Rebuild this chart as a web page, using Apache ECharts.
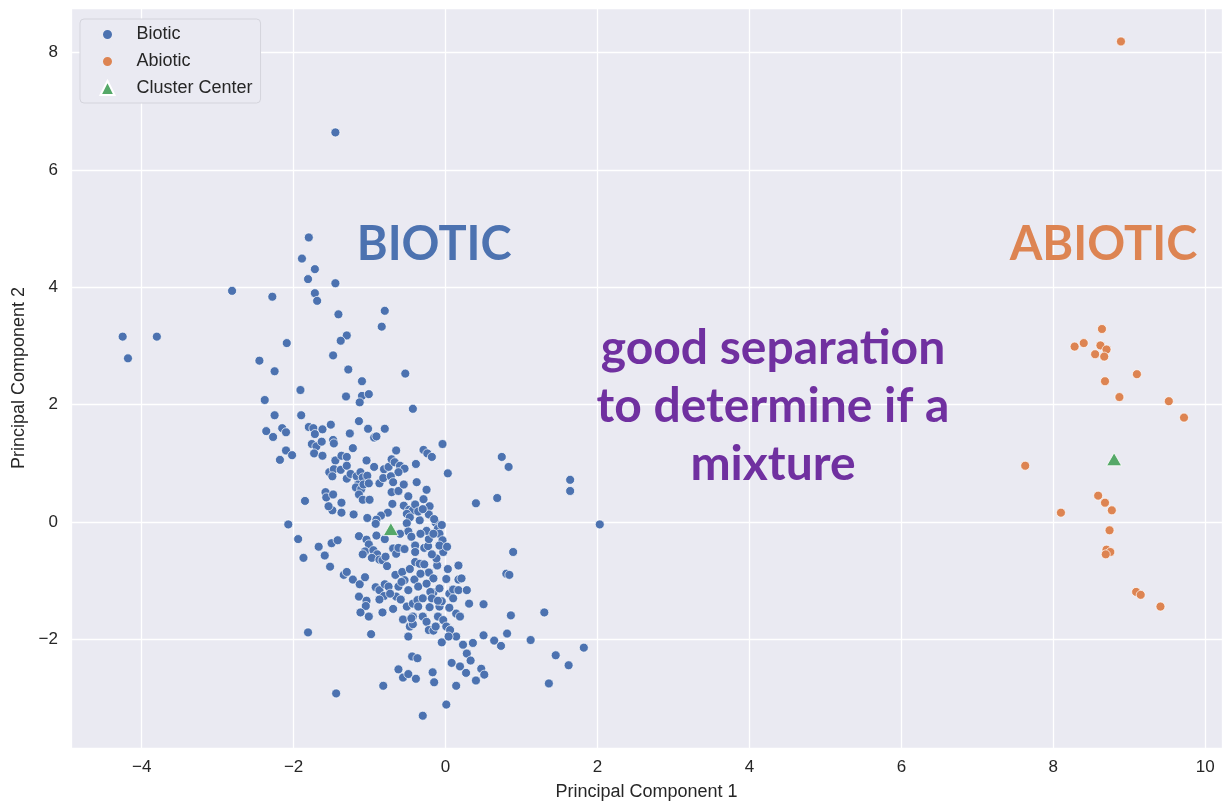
<!DOCTYPE html>
<html>
<head>
<meta charset="utf-8">
<title>PCA clusters</title>
<script src="https://cdn.jsdelivr.net/npm/echarts@6.0.0/dist/echarts.min.js"></script>
<style>
  html, body { margin: 0; padding: 0; background: #fff; }
  #main { width: 1224px; height: 806px; }
</style>
</head>
<body>
<div id="main"></div>
<script>
// points as [PC1, PC2]
const biotic = [
  [-1.45, 6.64], [-1.80, 4.85], [-1.89, 4.49], [-1.72, 4.31], [-1.81, 4.14], [-1.45, 4.07], [-1.72, 3.90], [-1.69, 3.77],
  [-2.81, 3.94], [-2.28, 3.84], [-1.41, 3.54], [-0.80, 3.60], [-0.84, 3.33], [-4.25, 3.16], [-3.80, 3.16], [-4.18, 2.79],
  [-2.09, 3.05], [-1.30, 3.18], [-1.38, 3.09], [-1.48, 2.84], [-2.45, 2.75], [-2.25, 2.57], [-1.28, 2.60], [-1.10, 2.40],
  [-0.53, 2.53], [-1.91, 2.25], [-1.31, 2.14], [-1.10, 2.15], [-1.01, 2.18], [-1.13, 2.04], [-2.38, 2.08], [-0.43, 1.93],
  [-2.25, 1.82], [-1.90, 1.82],
  [-2.36, 1.55], [-2.27, 1.45], [-2.15, 1.60], [-2.10, 1.53], [-2.18, 1.06], [-2.10, 1.22], [-2.02, 1.14],
  [-1.80, 1.62], [-1.74, 1.60], [-1.72, 1.50], [-1.62, 1.58], [-1.51, 1.66],
  [-1.76, 1.33], [-1.70, 1.29], [-1.73, 1.17], [-1.63, 1.37], [-1.62, 1.13],
  [-1.48, 1.40], [-1.47, 1.34], [-1.26, 1.51], [-1.14, 1.72], [-1.02, 1.59], [-0.94, 1.44], [-0.91, 1.46], [-0.80, 1.59],
  [-1.22, 1.26], [-1.45, 1.05], [-1.37, 1.13], [-1.30, 1.11],
  [-1.53, 0.85], [-1.47, 0.90], [-1.49, 0.78], [-1.38, 0.89], [-1.30, 0.96], [-1.30, 0.74],
  [-1.25, 0.82], [-1.17, 0.78], [-1.12, 0.85], [-1.15, 0.64], [-1.09, 0.76], [-1.03, 0.79], [-1.18, 0.59], [-1.11, 0.56],
  [-1.08, 0.64], [-1.01, 0.66], [-1.14, 0.47], [-1.09, 0.38], [-1.00, 0.38],
  [-1.04, 1.05], [-0.94, 0.94], [-0.81, 0.90], [-0.75, 0.94],
  [-0.71, 1.07], [-0.65, 1.22], [-0.67, 1.02], [-0.60, 0.96], [-0.54, 0.91], [-0.62, 0.85],
  [-0.39, 0.99], [-0.29, 1.23], [-0.24, 1.17], [-0.18, 1.11], [-0.04, 1.33], [0.03, 0.83], [0.40, 0.32],
  [-0.87, 0.66], [-0.82, 0.75], [-0.72, 0.78], [-0.69, 0.68], [-0.71, 0.51], [-0.62, 0.53], [-0.55, 0.64], [-0.38, 0.68],
  [-0.49, 0.44], [-0.25, 0.55], [-0.29, 0.39], [-0.21, 0.27], [-0.22, 0.13], [-0.34, 0.03],
  [-0.55, 0.28], [-0.48, 0.21], [-0.43, 0.20], [-0.51, 0.14], [-0.47, 0.08], [-0.51, -0.02],
  [-0.70, 0.31], [-0.76, 0.16], [-0.85, 0.11], [-0.91, 0.04], [-0.92, -0.03], [-1.03, 0.07], [-1.21, 0.13], [-1.37, 0.16],
  [-1.49, 0.20], [-1.54, 0.27], [-1.58, 0.51], [-1.57, 0.42], [-1.48, 0.47], [-1.37, 0.33], [-1.85, 0.36],
  [-2.07, -0.04], [-1.94, -0.29], [-1.87, -0.61], [-1.67, -0.42], [-1.59, -0.57], [-1.50, -0.36], [-1.42, -0.31],
  [-1.52, -0.76], [-1.34, -0.90], [-1.30, -0.85], [-1.22, -0.98], [-1.13, -1.06], [-1.06, -0.94],
  [-1.14, -0.24], [-1.04, -0.30], [-1.01, -0.38], [-1.06, -0.50], [-1.09, -0.55], [-0.91, -0.23], [-0.80, -0.29],
  [-0.95, -0.48], [-0.90, -0.55], [-0.97, -0.61], [-0.87, -0.64], [-0.83, -0.65], [-0.79, -0.59], [-0.77, -0.75],
  [-0.69, -0.45], [-0.65, -0.54], [-0.62, -0.44], [-0.54, -0.46], [-0.40, -0.40], [-0.40, -0.51], [-0.49, -0.16],
  [-0.28, -0.44], [-0.23, -0.41], [-0.22, -0.29], [-0.25, -0.15], [-0.13, -0.01], [-0.10, -0.11], [-0.08, -0.20],
  [-0.04, -0.31], [-0.03, -0.51],
  [-0.40, -0.68], [-0.34, -0.71], [-0.28, -0.72], [-0.11, -0.74], [0.17, -0.74],
  [-0.92, -1.11], [-0.87, -1.16], [-0.80, -1.06], [-0.81, -1.26], [-0.87, -1.32], [-1.14, -1.27], [-1.04, -1.34],
  [-1.05, -1.43], [-1.12, -1.54], [-1.01, -1.61], [-0.83, -1.54],
  [-0.66, -0.90], [-0.57, -0.85], [-0.54, -0.99], [-0.41, -0.98], [-0.36, -1.10], [-0.49, -1.16], [-0.62, -1.10],
  [-0.65, -1.27], [-0.69, -1.48], [-0.59, -1.32], [-0.51, -1.44], [-0.43, -1.39], [-0.37, -1.33],
  [-0.56, -1.66], [-0.43, -1.61], [-0.30, -1.61], [-0.21, -1.45], [-0.16, -1.20], [-0.08, -1.13], [-0.20, -1.19],
  [-0.22, -0.86], [-0.16, -0.96], [0.01, -0.97], [0.05, -1.22],
  [0.10, -1.15], [0.17, -1.16], [0.28, -1.16], [0.17, -0.98], [0.21, -0.96],
  [-0.08, -1.44], [-0.10, -1.61], [-0.03, -1.67], [0.05, -1.46], [0.14, -1.56], [0.19, -1.61], [0.31, -1.39],
  [-0.47, -1.78], [-0.43, -1.74], [-0.25, -1.70], [-0.22, -1.84], [-0.16, -1.85], [-0.13, -1.78],
  [0.01, -1.78], [0.06, -1.84], [0.14, -1.95], [0.23, -2.09], [0.28, -2.24], [0.36, -2.06], [-0.05, -2.05], [0.04, -1.95],
  [-0.49, -1.95], [-1.81, -1.88], [-0.98, -1.91], [-0.44, -2.29], [-0.37, -2.32], [-0.62, -2.51], [-0.56, -2.65],
  [-0.49, -2.59], [-0.39, -2.67], [-0.17, -2.56], [-0.15, -2.73],
  [0.08, -2.40], [0.19, -2.46], [0.27, -2.57], [0.33, -2.36], [0.40, -2.70], [0.14, -2.79], [-0.82, -2.79], [-1.44, -2.92],
  [0.01, -3.11], [-0.30, -3.30],
  [0.74, 1.11], [0.83, 0.94], [1.64, 0.72], [1.64, 0.53], [0.68, 0.41], [2.03, -0.04], [0.89, -0.51], [0.80, -0.88],
  [0.84, -0.90], [0.50, -1.40], [0.86, -1.59], [1.30, -1.54], [0.50, -1.93], [0.64, -2.02], [0.73, -2.11], [0.81, -1.90],
  [1.12, -2.01], [1.82, -2.14], [1.45, -2.27], [1.62, -2.44], [1.36, -2.75], [0.47, -2.50], [0.51, -2.60],
  [-0.75, -1.10], [-0.73, -1.22], [-0.58, -1.02], [-0.36, -1.44], [-0.45, -1.64], [-0.30, -1.30], [-0.25, -1.05],
  [-0.33, -0.88], [-0.47, -0.80], [-0.18, -1.30], [-0.05, -1.35], [0.10, -1.30], [-0.12, -0.62], [0.03, -0.80],
  [-0.40, 0.30], [-0.36, 0.18], [-0.30, 0.22], [-0.15, 0.05], [-0.05, -0.05], [-0.08, -0.40], [0.02, -0.42],
  [-0.18, -0.55], [-0.33, -0.20], [-0.45, -0.25], [-0.60, -0.20], [-0.16, -0.20], [-0.10, -1.34]
];

const abiotic = [
  [8.89, 8.19], [8.64, 3.29], [8.28, 2.99], [8.40, 3.05], [8.62, 3.01], [8.70, 2.94], [8.55, 2.86], [8.67, 2.82],
  [8.68, 2.40], [9.10, 2.52], [8.87, 2.13], [9.52, 2.06], [9.72, 1.78], [7.63, 0.96], [8.59, 0.45], [8.68, 0.33],
  [8.77, 0.20], [8.10, 0.16], [8.74, -0.14], [8.70, -0.47], [8.75, -0.51], [8.69, -0.55], [9.09, -1.19], [9.15, -1.24],
  [9.41, -1.44]
];

const clusterCenters = [[-0.72, -0.12], [8.80, 1.07]];

const seriesNames = ["Biotic", "Abiotic", "Cluster Center"];
const xRange = [-4.93, 10.22];
const yRange = [-3.85, 8.76];

// hand-written notes on the figure, anchored in data space
const notes = [
  { text: "BIOTIC", at: [-0.15, 4.72] },
  { text: "ABIOTIC", at: [8.66, 4.73] },
  { text: "good separation\nto determine if a\nmixture", at: [4.31, 1.97] }
];
const noteColors = ["#4c72b0", "#dd8452", "#7030a0"];

const FONT = "'Liberation Sans', Arial, Helvetica, sans-serif";
const minus = v => String(v).replace("-", "\u2212");

const chart = echarts.init(document.getElementById("main"));

const option = {
  animation: false,
  backgroundColor: "#fff",
  grid: {
    left: 71, right: 2, top: 8, bottom: 54,
    show: true, backgroundColor: "#eaeaf2", borderWidth: 0
  },
  legend: {
    orient: "vertical",
    left: 80, top: 19,
    padding: [6, 8, 6, 18],
    itemWidth: 14, itemHeight: 14, itemGap: 8,
    backgroundColor: "#eaeaf2",
    borderColor: "#d4d4dc", borderWidth: 1, borderRadius: 4,
    data: [
      { name: seriesNames[0], icon: "circle", itemStyle: { borderColor: "#eaeaf2", borderWidth: 5 } },
      { name: seriesNames[1], icon: "circle", itemStyle: { borderColor: "#eaeaf2", borderWidth: 5 } },
      { name: seriesNames[2], icon: "triangle" }
    ],
    formatter: "{t|{name}}",
    textStyle: {
      rich: { t: { fontFamily: FONT, fontSize: 18, color: "#262626", lineHeight: 20, padding: [0, 0, 0, 17] } }
    }
  },
  xAxis: {
    type: "value",
    min: xRange[0], max: xRange[1],
    splitNumber: 7,
    name: "Principal Component 1",
    nameLocation: "middle",
    nameGap: 35,
    nameTextStyle: { fontFamily: FONT, fontSize: 18, color: "#262626" },
    axisLine: { show: false },
    axisTick: { show: false },
    axisLabel: {
      fontFamily: FONT, fontSize: 17, color: "#262626", margin: 11,
      showMinLabel: false, showMaxLabel: false, formatter: minus
    },
    splitLine: { lineStyle: { color: "#ffffff", width: 1.3 } }
  },
  yAxis: {
    type: "value",
    min: yRange[0], max: yRange[1],
    splitNumber: 6,
    name: "Principal Component 2",
    nameLocation: "middle",
    nameGap: 43,
    nameTextStyle: { fontFamily: FONT, fontSize: 18, color: "#262626" },
    axisLine: { show: false },
    axisTick: { show: false },
    axisLabel: {
      fontFamily: FONT, fontSize: 17, color: "#262626", margin: 13,
      showMinLabel: false, showMaxLabel: false, formatter: minus
    },
    splitLine: { lineStyle: { color: "#ffffff", width: 1.3 } }
  },
  series: [
    {
      name: seriesNames[0], type: "scatter", data: biotic,
      symbol: "circle", symbolSize: 9,
      itemStyle: { color: "#4c72b0", borderColor: "#ffffff", borderWidth: 0.7, opacity: 1 }
    },
    {
      name: seriesNames[1], type: "scatter", data: abiotic,
      symbol: "circle", symbolSize: 9,
      itemStyle: { color: "#dd8452", borderColor: "#ffffff", borderWidth: 0.7, opacity: 1 }
    },
    {
      name: seriesNames[2], type: "scatter", data: clusterCenters,
      symbol: "triangle", symbolSize: [15, 13],
      itemStyle: { color: "#55a868", borderColor: "#ffffff", borderWidth: 0.8, opacity: 1 }
    }
  ]
};

chart.setOption(option);

// place the annotation texts once the grid scales exist
const noteGraphics = notes.map((n, i) => {
  const p = chart.convertToPixel({ gridIndex: 0 }, n.at);
  const big = i < 2;
  return {
    type: "text",
    x: p[0], y: p[1], z: 50,
    style: {
      text: n.text,
      fill: noteColors[i],
      font: (big ? "bold 47px " : "bold 48px ") + "Lato, 'Open Sans', sans-serif",
      align: "center",
      verticalAlign: "middle",
      lineHeight: 58
    }
  };
});
chart.setOption({ graphic: noteGraphics });
</script>
</body>
</html>
